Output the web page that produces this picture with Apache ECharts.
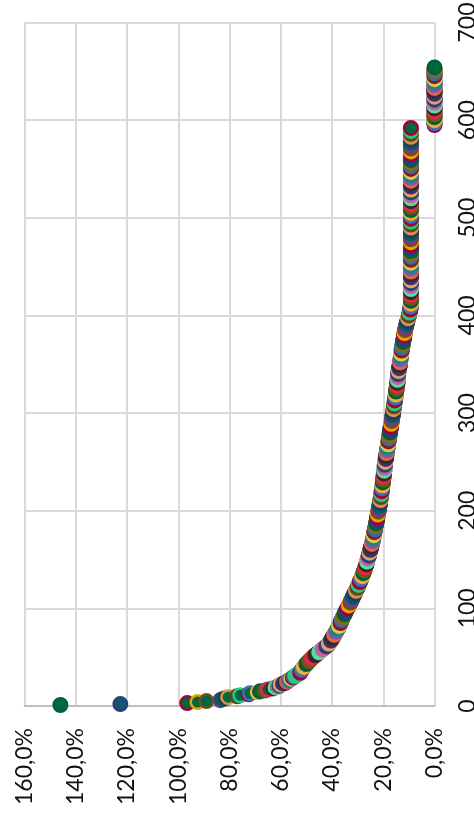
<!DOCTYPE html>
<html>
<head>
<meta charset="utf-8">
<style>html,body{margin:0;padding:0;background:#fff}#c{width:474px;height:826px}</style>
<script src="https://cdn.jsdelivr.net/npm/echarts@6/dist/echarts.min.js"></script>
</head>
<body>
<div id="c"></div>
<script>
// share (%) by rank, rank = position + 1
const shares = [
146,122.6,96.5,92.5,89,83.6,82.8,81.5,80.5,77,
75.8,72.5,72,69,68,66,65,63,62,61,
60.5,60,59,58,57.5,57,56.3,55.8,55.3,54.8,
54.3,53.6,53,52.4,52.2,52,51.8,51.5,51.2,51,
50.7,50.4,50,49.7,49.3,48.9,48.5,48.2,47.8,47.4,
47,46.5,46,45.5,45,44.6,44.2,43.7,43.2,42.7,
42.2,41.8,41.5,41.2,41,40.7,40.4,40.2,40,39.8,
39.5,39.3,39.1,38.9,38.7,38.4,38.2,38,37.8,37.5,
37.3,37.2,37,36.8,36.7,36.5,36.4,36.2,36,35.9,
35.7,35.5,35.3,35.1,34.9,34.8,34.6,34.4,34.2,34,
33.8,33.6,33.4,33.2,33,32.8,32.6,32.5,32.3,32.1,
31.9,31.8,31.6,31.4,31.2,31,30.8,30.6,30.5,30.3,
30.1,29.9,29.8,29.6,29.5,29.3,29.1,29,28.8,28.7,
28.5,28.4,28.2,28.1,27.9,27.8,27.6,27.5,27.4,27.2,
27.1,27,26.9,26.8,26.6,26.5,26.4,26.3,26.2,26.1,
26,25.9,25.7,25.6,25.5,25.4,25.3,25.2,25.1,25,
24.9,24.8,24.7,24.6,24.5,24.4,24.3,24.2,24.1,24,
23.9,23.9,23.8,23.7,23.7,23.6,23.5,23.5,23.4,23.3,
23.2,23.2,23.1,23,22.9,22.8,22.8,22.7,22.6,22.5,
22.5,22.4,22.3,22.2,22.2,22.1,22,22,21.9,21.8,
21.7,21.7,21.6,21.5,21.5,21.4,21.3,21.3,21.2,21.2,
21.1,21,21,20.9,20.9,20.8,20.8,20.7,20.7,20.6,
20.6,20.5,20.5,20.4,20.4,20.3,20.3,20.2,20.2,20.1,
20.1,20,20,19.9,19.9,19.8,19.8,19.7,19.7,19.6,
19.6,19.6,19.5,19.5,19.4,19.4,19.4,19.3,19.3,19.2,
19.2,19.1,19,19,18.9,18.8,18.8,18.7,18.7,18.6,
18.5,18.5,18.4,18.4,18.3,18.2,18.2,18.1,18.1,18,
18,17.9,17.8,17.8,17.7,17.6,17.6,17.5,17.5,17.4,
17.3,17.3,17.2,17.2,17.1,17,17,16.9,16.9,16.8,
16.7,16.7,16.6,16.6,16.5,16.4,16.4,16.3,16.3,16.2,
16.1,16.1,16,16,15.9,15.8,15.8,15.7,15.7,15.6,
15.6,15.5,15.5,15.4,15.3,15.3,15.2,15.2,15.1,15.1,
15,15,14.9,14.8,14.8,14.7,14.7,14.6,14.6,14.5,
14.5,14.4,14.4,14.4,14.3,14.3,14.3,14.2,14.2,14.2,
14.1,14,14,13.9,13.8,13.8,13.7,13.7,13.6,13.5,
13.5,13.4,13.4,13.3,13.3,13.2,13.2,13.1,13.1,13,
13,12.9,12.9,12.8,12.8,12.7,12.7,12.6,12.5,12.4,
12.4,12.3,12.2,12.2,12.1,12,12,11.9,11.8,11.8,
11.7,11.7,11.6,11.6,11.5,11.4,11.3,11.2,11.1,11,
10.9,10.8,10.7,10.6,10.5,10.4,10.3,10.2,10.1,10,
9.9,9.8,9.7,9.6,9.5,9.4,9.4,9.3,9.3,9.3,
9.2,9.2,9.2,9.2,9.2,9.2,9.2,9.2,9.2,9.2,
9.2,9.2,9.2,9.2,9.2,9.2,9.2,9.2,9.2,9.2,
9.2,9.2,9.2,9.2,9.2,9.2,9.2,9.2,9.2,9.2,
9.2,9.2,9.2,9.2,9.2,9.2,9.2,9.2,9.2,9.2,
9.2,9.2,9.2,9.2,9.2,9.2,9.2,9.2,9.2,9.2,
9.2,9.2,9.2,9.2,9.2,9.2,9.2,9.2,9.2,9.2,
9.2,9.2,9.2,9.2,9.2,9.2,9.2,9.2,9.2,9.2,
9.2,9.2,9.2,9.2,9.2,9.2,9.2,9.2,9.2,9.2,
9.2,9.2,9.2,9.2,9.2,9.2,9.2,9.2,9.2,9.2,
9.2,9.2,9.2,9.2,9.2,9.2,9.2,9.2,9.2,9.2,
9.2,9.2,9.2,9.2,9.2,9.2,9.2,9.2,9.2,9.2,
9.2,9.2,9.2,9.2,9.2,9.2,9.2,9.2,9.2,9.2,
9.2,9.2,9.2,9.2,9.2,9.2,9.2,9.2,9.2,9.2,
9.2,9.2,9.2,9.2,9.2,9.2,9.2,9.2,9.2,9.2,
9.2,9.2,9.2,9.2,9.2,9.2,9.2,9.2,9.2,9.2,
9.2,9.2,9.2,9.2,9.2,9.2,9.2,9.2,9.2,9.2,
9.2,9.2,9.2,9.2,9.2,9.2,9.2,9.2,9.2,9.2,
9.2,9.2,9.2,9.2,9.2,9.2,9.2,9.2,9.2,9.2,
9.2,9.2
];
// the upper column: ranks 595 to 654
const zeroFirstRank = 595;
const zeroShares = [
0,0,0,0,0,0,0,0,0,0,0,0,0,0,0,0,0,0,0,0,
0,0,0,0,0,0,0,0,0,0,0,0,0,0,0,0,0,0,0,0,
0,0,0,0,0,0,0,0,0,0,0,0,0,0,0,0,0,0,0,0
];
const xTicks = {min:0, max:160, step:20};
const yTicks = {min:0, max:700, step:100};
const borderPalette = [
'#00603d','#24407f','#a50034','#e0a800','#7a4a21','#6a3d8f','#0b5d52','#1e3a68',
'#d9924a','#5c4a1c','#2ec58a','#a50034','#3f6fb5','#f0b030','#0a5a3a','#6b5a10',
'#e8244c','#3a2a20','#50e0a8','#c8609a','#2b3f80','#d9a860','#4b2a70','#2f2f2f',
'#e8624a','#7d5aa8','#108a80','#f2c04a','#7a1f2b','#3d6a9e','#8a6a18'
];
const singleColourRanks = 30;   // the sparse head of the curve
const stripeLength = 3;         // along the dense part, neighbours share a colour
const fillColor = '#00673f';
const fillRank2 = '#14576a';

const points = shares.map((v,i)=>({rank:i+1,v}))
  .concat(zeroShares.map((v,i)=>({rank:zeroFirstRank+i,v})));
const data = points.map((p,i)=>{
  const k = i<singleColourRanks ? i : Math.floor(i/stripeLength);
  return {
    value:[p.v,p.rank],
    itemStyle:{color:p.rank===2?fillRank2:fillColor,borderColor:borderPalette[k%borderPalette.length]}
  };
});

const chart = echarts.init(document.getElementById('c'),null,{renderer:'canvas'});
const font = 'Lato';
chart.setOption({
  animation:false,
  backgroundColor:'#fff',
  grid:{left:24.5,right:39.5,top:22.5,bottom:120,outerBoundsMode:'none'},
  xAxis:{
    type:'value',inverse:true,min:xTicks.min,max:xTicks.max,interval:xTicks.step,
    axisLine:{show:true,lineStyle:{color:'#bfbfbf',width:2}},
    axisTick:{show:false},
    splitLine:{show:true,lineStyle:{color:'#d9d9d9',width:2}},
    axisLabel:{
      show:true,rotate:90,margin:22,color:'#111',fontFamily:font,fontSize:23,
      formatter:v=>v.toFixed(1).replace('.',',')+'%'
    }
  },
  yAxis:{
    type:'value',position:'right',min:yTicks.min,max:yTicks.max,interval:yTicks.step,
    axisLine:{show:false},
    axisTick:{show:false},
    splitLine:{show:true,lineStyle:{color:'#d9d9d9',width:2}},
    axisLabel:{show:true,rotate:90,margin:22,color:'#111',fontFamily:font,fontSize:23}
  },
  series:[{
    type:'scatter',data,symbol:'circle',symbolSize:13.5,
    itemStyle:{borderWidth:2.5,opacity:1},
    large:false,progressive:0,clip:false,silent:true
  }]
});
</script>
</body>
</html>
